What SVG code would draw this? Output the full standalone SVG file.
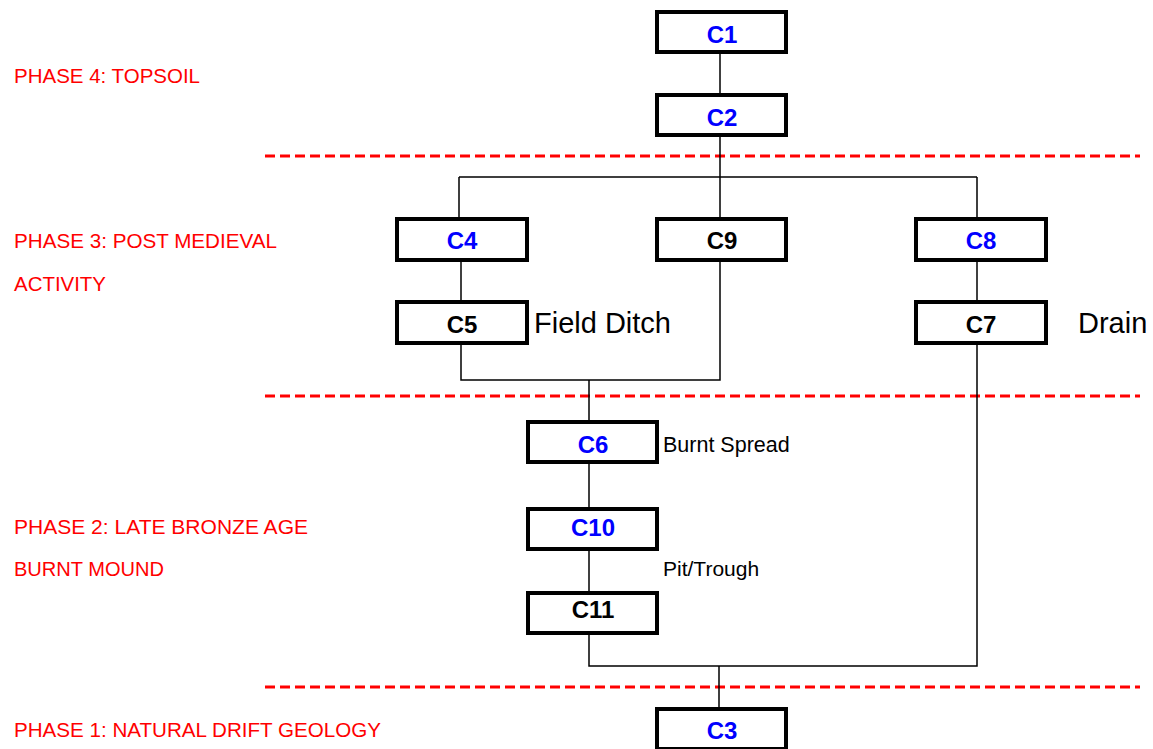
<svg xmlns="http://www.w3.org/2000/svg" width="1153" height="749" viewBox="0 0 1153 749">
<style>
.box{fill:#fff;stroke:#000;stroke-width:4}
.lbl{font-family:"Liberation Sans",Arial,sans-serif;font-weight:bold;font-size:24px;text-anchor:middle}
.blue{fill:#0000ff}
.black{fill:#000}
.phase{font-family:"Liberation Sans",Arial,sans-serif;font-size:21px;fill:#ff0000}
.note{font-family:"Liberation Sans",Arial,sans-serif;fill:#000}
.dash{stroke:#ff0000;stroke-width:3;stroke-dasharray:10 5;fill:none}
.con{stroke:#000;stroke-width:1.5;fill:none}
</style>
<rect width="1153" height="749" fill="#fff"/>
<g id="phases">
<text class="phase" x="14" y="83" textLength="186" lengthAdjust="spacingAndGlyphs">PHASE 4: TOPSOIL</text>
<text class="phase" x="14" y="248" textLength="263" lengthAdjust="spacingAndGlyphs">PHASE 3: POST MEDIEVAL</text>
<text class="phase" x="14" y="291" textLength="92" lengthAdjust="spacingAndGlyphs">ACTIVITY</text>
<text class="phase" x="14" y="534" textLength="294" lengthAdjust="spacingAndGlyphs">PHASE 2: LATE BRONZE AGE</text>
<text class="phase" x="14" y="576" textLength="150" lengthAdjust="spacingAndGlyphs">BURNT MOUND</text>
<text class="phase" x="14" y="737" textLength="367" lengthAdjust="spacingAndGlyphs">PHASE 1: NATURAL DRIFT GEOLOGY</text>
</g>
<g id="dividers">
<line class="dash" x1="265" y1="156" x2="1140" y2="156"/>
<line class="dash" x1="265" y1="396" x2="1140" y2="396"/>
<line class="dash" x1="265" y1="687" x2="1140" y2="687"/>
</g>
<g id="connectors">
<line class="con" x1="720" y1="52" x2="720" y2="95"/>
<path class="con" d="M720 135 V177 M459 177 H977 M459 177 V219 M720 177 V219 M977 177 V219"/>
<line class="con" x1="461" y1="260" x2="461" y2="302"/>
<line class="con" x1="977" y1="260" x2="977" y2="302"/>
<path class="con" d="M461 342 V380 H720 V260 M589 380 V422"/>
<line class="con" x1="589" y1="462" x2="589" y2="509"/>
<line class="con" x1="589" y1="549" x2="589" y2="593"/>
<path class="con" d="M589 633 V666 H977 V342 M719 666 V709"/>
</g>
<g id="C1"><rect class="box" x="657" y="12" width="129" height="40"/><text class="lbl blue" x="722" y="43">C1</text></g>
<g id="C2"><rect class="box" x="657" y="95" width="129" height="40"/><text class="lbl blue" x="722" y="126">C2</text></g>
<g id="C4"><rect class="box" x="397" y="219" width="130" height="41"/><text class="lbl blue" x="462" y="249">C4</text></g>
<g id="C9"><rect class="box" x="657" y="219" width="129" height="41"/><text class="lbl black" x="722" y="249">C9</text></g>
<g id="C8"><rect class="box" x="916" y="219" width="130" height="41"/><text class="lbl blue" x="981" y="249">C8</text></g>
<g id="C5"><rect class="box" x="397" y="302" width="130" height="41"/><text class="lbl black" x="462" y="333">C5</text></g>
<g id="C7"><rect class="box" x="916" y="302" width="130" height="41"/><text class="lbl black" x="981" y="333">C7</text></g>
<g id="C6"><rect class="box" x="528" y="422" width="129" height="40"/><text class="lbl blue" x="593" y="453">C6</text></g>
<g id="C10"><rect class="box" x="528" y="509" width="129" height="40"/><text class="lbl blue" x="593" y="536">C10</text></g>
<g id="C11"><rect class="box" x="528" y="593" width="129" height="40"/><text class="lbl black" x="593" y="618">C11</text></g>
<g id="C3"><rect class="box" x="657" y="709" width="129" height="40"/><text class="lbl blue" x="722" y="739">C3</text></g>
<g id="notes">
<text class="note" x="534" y="333" font-size="29">Field Ditch</text>
<text class="note" x="1078" y="333" font-size="29">Drain</text>
<text class="note" x="663" y="452" font-size="21.5">Burnt Spread</text>
<text class="note" x="663" y="576" font-size="21">Pit/Trough</text>
</g>
</svg>
